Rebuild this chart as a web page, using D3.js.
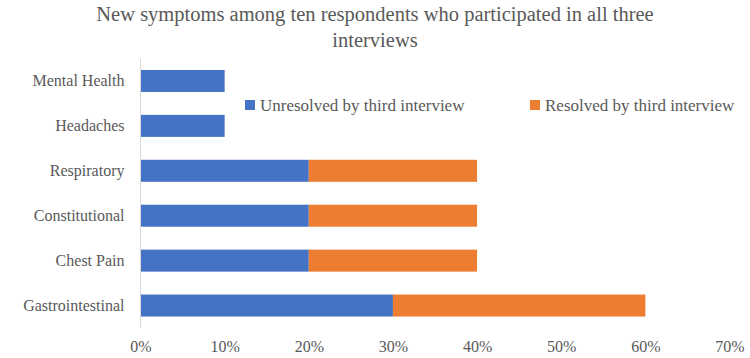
<!DOCTYPE html>
<html><head><meta charset="utf-8">
<script src="https://cdn.jsdelivr.net/npm/d3@7"></script>
<style>body{margin:0;background:#fff}svg{display:block}</style>
</head><body>
<script>
const categories = ["Mental Health","Headaches","Respiratory","Constitutional","Chest Pain","Gastrointestinal"];
const unresolved = [0.10,0.10,0.20,0.20,0.20,0.30];
const resolved = [0,0,0.20,0.20,0.20,0.30];
const seriesNames = ["Unresolved by third interview","Resolved by third interview"];
const colors = ["#4472C4","#ED7D31"];
const ticks = [0,0.1,0.2,0.3,0.4,0.5,0.6,0.7];
const titleLines = ["New symptoms among ten respondents who participated in all three","interviews"];

const W=750,H=358;
const svg=d3.select("body").append("svg").attr("width",W).attr("height",H);
const FONT="Liberation Serif";
const x=d3.scaleLinear().domain([0,0.7]).range([140.5,729.5]);
const y=d3.scaleBand().domain(categories).range([58.5,328]).paddingInner(0.51).paddingOuter(0.255);

svg.append("g").selectAll("text").data(titleLines).join("text")
  .attr("x",375).attr("y",(d,i)=>21+i*26).attr("text-anchor","middle")
  .attr("font-family",FONT).attr("font-size",20.5).attr("fill","#595959").text(d=>d);

const data=categories.map((c,i)=>({c,u:unresolved[i],r:resolved[i]}));
const g=svg.append("g");
g.selectAll("rect.u").data(data).join("rect").attr("class","u")
  .attr("x",x(0)).attr("y",d=>y(d.c)).attr("width",d=>x(d.u)-x(0)).attr("height",y.bandwidth()).attr("fill",colors[0]);
g.selectAll("rect.r").data(data.filter(d=>d.r>0)).join("rect").attr("class","r")
  .attr("x",d=>x(d.u)).attr("y",d=>y(d.c)).attr("width",d=>x(d.u+d.r)-x(d.u)).attr("height",y.bandwidth()).attr("fill",colors[1]);

svg.append("line").attr("x1",x(0)).attr("x2",x(0)).attr("y1",58.5).attr("y2",327.5).attr("stroke","#D9D9D9").attr("stroke-width",1);

const ya=svg.append("g").attr("transform",`translate(${x(0)},0)`).call(d3.axisLeft(y).tickSize(0).tickPadding(16));
ya.attr("font-family",FONT).attr("font-size",16);
ya.select(".domain").remove();
ya.selectAll("text").attr("fill","#595959");

const xa=svg.append("g").attr("transform","translate(0,338)").call(d3.axisBottom(x).tickValues(ticks).tickSize(0).tickFormat(d3.format(".0%")));
xa.attr("font-family",FONT).attr("font-size",16);
xa.select(".domain").remove();
xa.selectAll("text").attr("fill","#595959");

const leg=svg.append("g");
const lx=[245,530];
seriesNames.forEach((n,i)=>{
  leg.append("rect").attr("x",lx[i]).attr("y",100).attr("width",10).attr("height",10).attr("fill",colors[i]);
  leg.append("text").attr("x",lx[i]+15).attr("y",111).attr("font-family",FONT).attr("font-size",17).attr("fill","#595959").text(n);
});
</script>
</body></html>
